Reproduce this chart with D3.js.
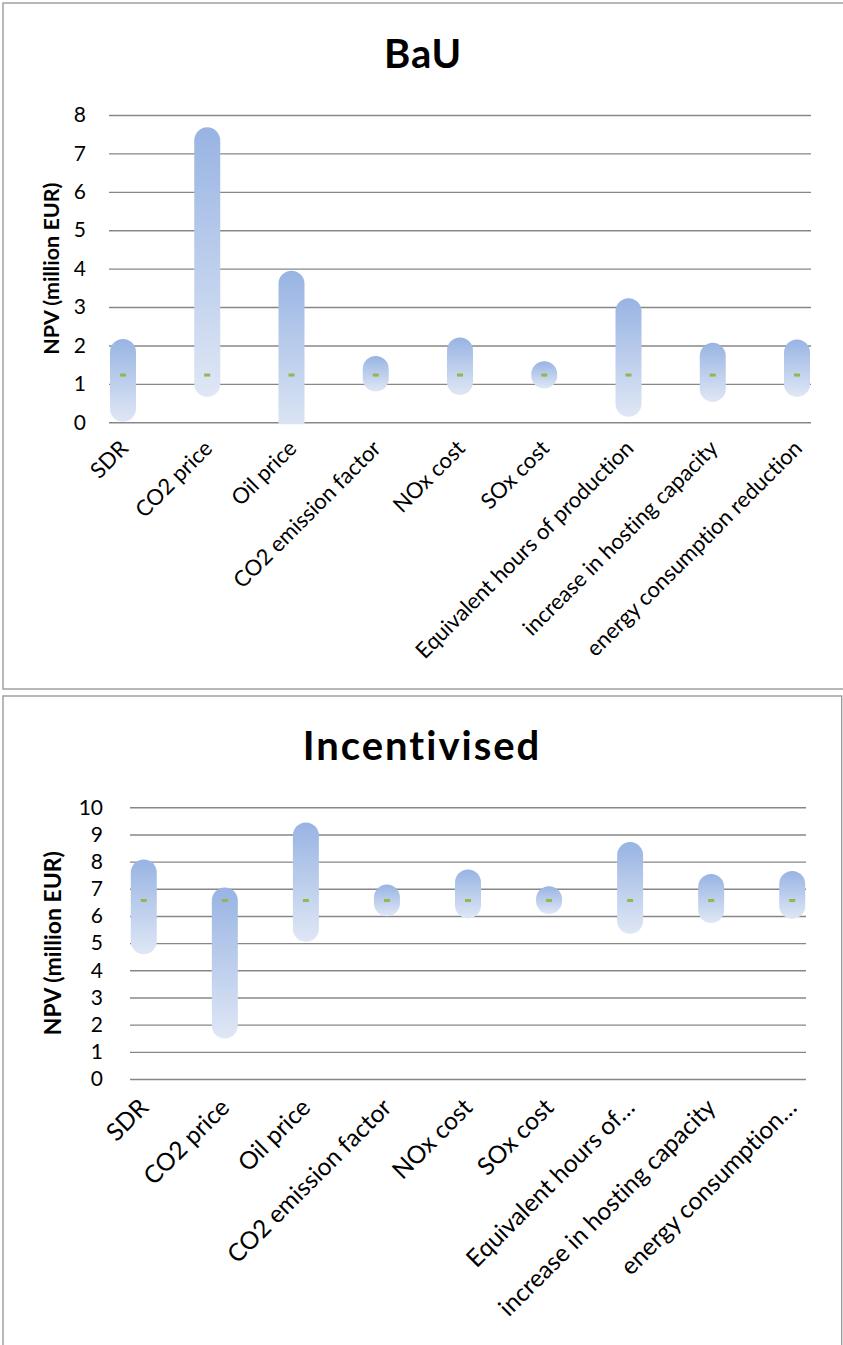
<!DOCTYPE html>
<html><head><meta charset="utf-8">
<script src="https://cdn.jsdelivr.net/npm/d3@7"></script>
<style>
html,body{margin:0;padding:0;background:#fff;}
svg{display:block;font-family:Lato,"Open Sans",sans-serif;font-variant-ligatures:none;}
</style></head>
<body>
<script>
// ---------- data ----------
const categories = ["SDR","CO2 price","Oil price","CO2 emission factor","NOx cost","SOx cost","Equivalent hours of production","increase in hosting capacity","energy consumption reduction"];
const bauTickLabels = ["SDR","CO2 price","Oil price","CO2 emission factor","NOx cost","SOx cost","Equivalent hours of production","increase in hosting capacity","energy consumption reduction"];
const incTickLabels = ["SDR","CO2 price","Oil price","CO2 emission factor","NOx cost","SOx cost","Equivalent hours of…","increase in hosting capacity","energy consumption…"];
const bauLow  = [0.35, 1.00, 0.00, 1.14, 1.05, 1.22, 0.48, 0.87, 1.00];
const bauHigh = [1.83, 7.34, 3.61, 1.39, 1.87, 1.25, 2.89, 1.73, 1.82];
const bauBase = [1.23, 1.23, 1.23, 1.23, 1.23, 1.23, 1.23, 1.23, 1.23];
const incLow  = [5.07, 1.97, 5.53, 6.47, 6.39, 6.55, 5.82, 6.22, 6.37];
const incHigh = [7.60, 6.57, 8.96, 6.68, 7.23, 6.62, 8.24, 7.07, 7.18];
const incBase = [6.57, 6.57, 6.57, 6.57, 6.57, 6.57, 6.57, 6.57, 6.57];
const bauYTicks = [0,1,2,3,4,5,6,7,8];
const incYTicks = [0,1,2,3,4,5,6,7,8,9,10];

const W = 843, H = 1345;
const svg = d3.select("body").append("svg").attr("width", W).attr("height", H);

const defs = svg.append("defs");
const grad = defs.append("linearGradient").attr("id","barGrad")
  .attr("x1",0).attr("y1",0).attr("x2",0).attr("y2",1);
grad.append("stop").attr("offset","0%").attr("stop-color","#98b4e3");
grad.append("stop").attr("offset","100%").attr("stop-color","#dfe7f5");

function drawChart(cfg){
  const g = svg.append("g");
  g.append("rect").attr("x",cfg.frame[0]).attr("y",cfg.frame[1])
    .attr("width",cfg.frame[2]).attr("height",cfg.frame[3])
    .attr("fill","#fff").attr("stroke","#9a9a9a").attr("stroke-width",1.4);
  g.append("text").attr("x",cfg.titleX).attr("y",cfg.titleY)
    .attr("text-anchor","middle").attr("font-weight","bold")
    .attr("font-size",cfg.titleSize).attr("letter-spacing",cfg.titleLS)
    .attr("fill","#000").text(cfg.title);

  const x = d3.scalePoint().domain(categories).range([cfg.x0, cfg.x1]).padding(cfg.pad);
  const y = d3.scaleLinear().domain([0, cfg.yMax]).range([cfg.yBottom, cfg.yTop]);

  const yAxis = d3.axisLeft(y).tickValues(cfg.yTicks).tickSize(-(cfg.x1-cfg.x0)).tickPadding(cfg.tickPad).tickFormat(d3.format("d"));
  const ya = g.append("g").attr("transform",`translate(${cfg.x0},0)`).call(yAxis);
  ya.select(".domain").remove();
  ya.selectAll(".tick line").attr("stroke","#878787").attr("stroke-width",1.4);
  ya.selectAll(".tick text").attr("font-size",cfg.tickSize).attr("fill","#000")
    .attr("font-family","Lato,sans-serif");

  g.append("text")
    .attr("transform",`translate(${cfg.yTitleX},${(cfg.yTop+cfg.yBottom)/2}) rotate(-90)`)
    .attr("text-anchor","middle").attr("font-weight","bold")
    .attr("font-size",cfg.yTitleSize).attr("fill","#000").text("NPV (million EUR)");

  const cid = "clip"+cfg.id;
  defs.append("clipPath").attr("id",cid).append("rect")
    .attr("x",cfg.x0).attr("y",cfg.yTop-30).attr("width",cfg.x1-cfg.x0).attr("height",cfg.yBottom-cfg.yTop+32);

  const r = cfg.barW/2;
  const bars = g.append("g").attr("clip-path",`url(#${cid})`);
  bars.selectAll("rect.bar").data(categories).join("rect").attr("class","bar")
    .attr("x",(d)=>x(d)-r)
    .attr("y",(d,i)=>y(cfg.high[i])-r)
    .attr("width",cfg.barW)
    .attr("height",(d,i)=>y(cfg.low[i])-y(cfg.high[i])+cfg.barW)
    .attr("rx",r).attr("ry",r)
    .attr("fill","url(#barGrad)");
  bars.selectAll("rect.mk").data(categories).join("rect").attr("class","mk")
    .attr("x",(d)=>x(d)-3).attr("y",(d,i)=>y(cfg.base[i])-1.5)
    .attr("width",6).attr("height",3).attr("fill","#93b64f");

  g.selectAll("text.cat").data(categories).join("text").attr("class","cat")
    .attr("transform",(d)=>`translate(${x(d)+cfg.labDx},${cfg.yBottom+cfg.labDy}) rotate(-45)`)
    .attr("text-anchor","end").attr("dy","0.35em")
    .attr("font-size",cfg.catSize).attr("fill","#000")
    .text((d,i)=>cfg.labels[i]);
}

drawChart({id:"bau", frame:[3,3,860,686], title:"BaU", titleX:423, titleY:68, titleSize:40, titleLS:1,
  x0:109, x1:811, pad:0.166, yTop:115, yBottom:422.3, yMax:8, yTicks:bauYTicks,
  tickPad:23, tickSize:21, yTitleX:59, yTitleSize:21.5, barW:26,
  low:bauLow, high:bauHigh, base:bauBase, labels:bauTickLabels, labDx:1, labDy:22, catSize:22});

drawChart({id:"inc", frame:[3,696,838.7,700], title:"Incentivised", titleX:422, titleY:760, titleSize:40, titleLS:2,
  x0:130, x1:806, pad:0.17, yTop:807.3, yBottom:1079, yMax:10, yTicks:incYTicks,
  tickPad:27, tickSize:21, yTitleX:61, yTitleSize:23, barW:26,
  low:incLow, high:incHigh, base:incBase, labels:incTickLabels, labDx:0, labDy:24, catSize:24.5});
</script>
</body></html>
